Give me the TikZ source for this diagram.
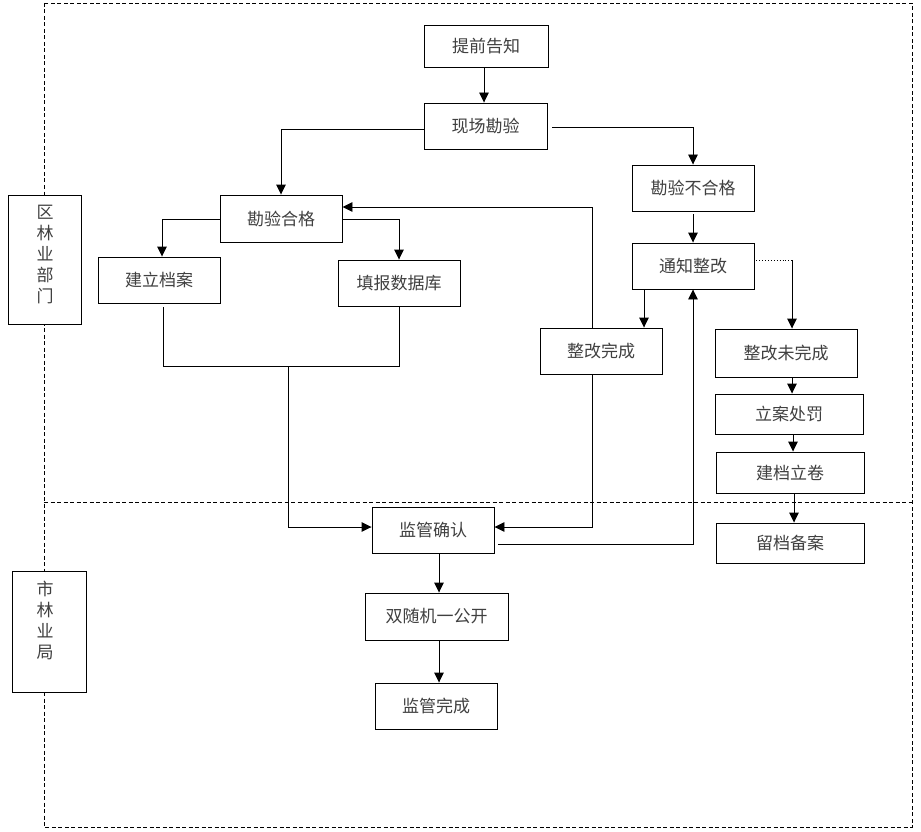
\documentclass[tikz,border=0pt]{standalone}
\usepackage{fontspec}
\newfontfamily\cjk{Noto Sans CJK SC}
\usetikzlibrary{arrows.meta}

\begin{document}
\begin{tikzpicture}[x=1pt,y=-1pt,
  box/.style={draw,line width=0.9pt,fill=white,minimum width=122pt,minimum height=46pt,inner sep=0pt,
    font=\cjk\fontsize{17}{20}\selectfont,text=black!75},
  lane/.style={draw,line width=0.9pt,fill=white,inner sep=0pt},
  lanetext/.style={align=center,inner sep=0pt,font=\cjk\fontsize{17}{21}\selectfont,text=black!75},
  arr/.style={line width=0.9pt,-{Triangle[length=10pt,width=9.5pt]}},
  lnk/.style={line width=0.9pt},
  border/.style={line width=0.8pt,dash pattern=on 4pt off 2.5pt}]
\useasboundingbox (0,0) rectangle (921,832);

\draw[border] (44,3) rectangle (912,827);
\draw[border] (44,502) -- (912,502);

\node[lane,minimum width=73pt,minimum height=129pt] (qu) at (44.5,259.5) {};
\node[lanetext] (qut) at (45,254) {区\\林\\业\\部\\门};
\node[lane,minimum width=74pt,minimum height=121pt] (shi) at (49,631.5) {};
\node[lanetext] (shit) at (45,620) {市\\林\\业\\局};

\node[box,minimum width=124pt,minimum height=42pt] (tq) at (486,46) {提前告知};
\node[box,minimum width=123pt] (xc) at (485.5,126) {现场勘验};
\node[box] (bhg) at (693,188) {勘验不合格};
\node[box] (tz) at (693,266) {通知整改};
\node[box,minimum height=47pt] (hg) at (281,218.5) {勘验合格};
\node[box] (da) at (159,280) {建立档案};
\node[box] (sjk) at (399,283) {填报数据库};
\node[box] (zgwc) at (601,351) {整改完成};
\node[box,minimum width=142pt,minimum height=48pt] (wwc) at (786,353) {整改未完成};
\node[box,minimum width=148pt,minimum height=40pt] (cf) at (789,414) {立案处罚};
\node[box,minimum width=148pt,minimum height=41pt] (lj) at (790,472.5) {建档立卷};
\node[box,minimum width=148pt,minimum height=40pt] (ba) at (790,543) {留档备案};
\node[box] (qr) at (433,530) {监管确认};
\node[box,minimum width=143pt,minimum height=47pt] (sj) at (436.5,616.5) {双随机一公开};
\node[box] (wc) at (436,706) {监管完成};

\coordinate (mg) at (288,366);
\coordinate (tzr) at (792,260);

\draw[arr] ([xshift=-2pt]tq.south) -- ([xshift=-2pt]tq.south |- xc.north);
\draw[arr] ([yshift=-3pt]xc.west) -| (hg.north);
\draw[arr] ([shift={(5pt,-1pt)}]xc.east) -| (bhg.north);
\draw[arr] ([yshift=-3pt]bhg.south) -- (tz.north);
\draw[arr] ([xshift=-49pt]tz.south) -- ([xshift=-49pt]tz.south |- zgwc.north);
\draw[lnk,dotted] ([xshift=2pt]tz.east |- tzr) -- (tzr);
\draw[arr] (tzr) -- (tzr |- wwc.north);
\draw[arr] ([xshift=6pt]wwc.south) -- ([xshift=6pt]wwc.south |- cf.north);
\draw[arr] ([xshift=4pt]cf.south) -- ([xshift=4pt]cf.south |- lj.north);
\draw[arr] ([xshift=4pt]lj.south) -- ([xshift=4pt]lj.south |- ba.north);
\draw[arr] ([yshift=-0.5pt]hg.west) -| ([xshift=3pt]da.north);
\draw[arr] ([yshift=-0.5pt]hg.east) -| (sjk.north);
\draw[lnk] ([shift={(4pt,-4pt)}]da.south) |- (mg -| sjk.south) -- (sjk.south);
\draw[arr] (mg) |- ([yshift=3pt]qr.west);
\draw[arr] ([xshift=-9pt]zgwc.south) |- ([yshift=3pt]qr.east);
\draw[arr] ([xshift=-9pt]zgwc.north) |- ([yshift=11.5pt]hg.east);
\draw[arr] ([shift={(4pt,-14pt)}]qr.east) -| (tz.south);
\draw[arr] ([xshift=6pt]qr.south) -- ([xshift=6pt]qr.south |- sj.north);
\draw[arr] ([xshift=2.5pt]sj.south) -- ([xshift=2.5pt]sj.south |- wc.north);
\end{tikzpicture}
\end{document}
